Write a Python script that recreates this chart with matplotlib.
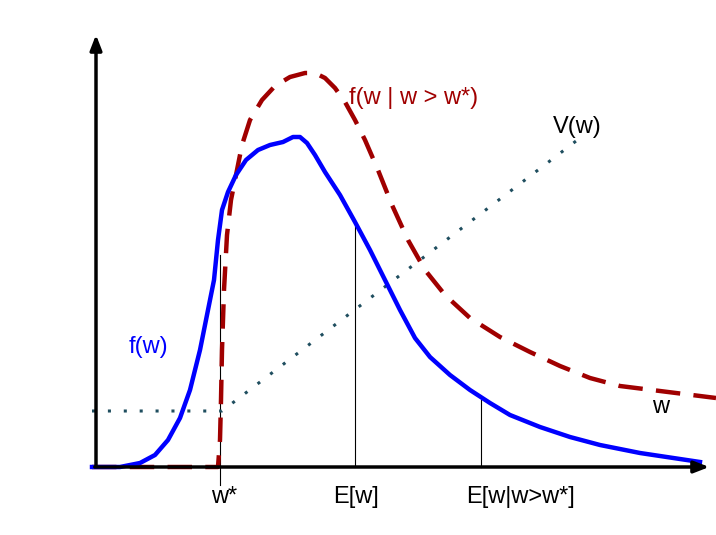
import numpy as np
import matplotlib.pyplot as plt

# points (pixel coords, y grows downward)
f_x = [92, 120, 140, 155, 168, 180, 190, 200, 208, 214, 218, 222, 228, 236, 246,
       258, 270, 283, 293, 300, 307, 315, 325, 340, 355, 370, 385, 400, 415, 430,
       450, 470, 490, 510, 540, 570, 600, 640, 680, 700]
f_y = [467, 467, 463, 455, 440, 418, 390, 350, 310, 280, 240, 210, 192, 175, 160,
       150, 145, 142, 137, 137, 143, 155, 172, 195, 222, 250, 280, 310, 338, 357,
       375, 390, 403, 415, 427, 437, 445, 453, 459, 462]

fc_x = [92, 218, 220, 221, 222, 224, 227, 231, 236, 242, 250, 262, 275, 290, 305,
        315, 325, 335, 345, 355, 365, 378, 392, 408, 425, 445, 470, 500, 530, 560,
        590, 620, 660, 716]
fc_y = [467, 467, 440, 400, 350, 290, 235, 200, 175, 145, 120, 100, 86, 77, 73,
        73, 78, 88, 102, 120, 140, 170, 205, 240, 270, 295, 318, 337, 352, 366,
        378, 386, 391, 398]

v_x = [92, 222, 580]
v_y = [411, 411, 138]

tick_x = [220, 355, 481]
tick_top = [255, 222, 400]
tick_labels = ["w*", "E[w]", "E[w|w>w*]"]

plt.rcParams['font.family'] = ['Liberation Sans', 'DejaVu Sans']

fig = plt.figure(figsize=(7.16, 5.35), dpi=100)
ax = fig.add_axes([0, 0, 1, 1])
ax.set_xlim(0, 716)
ax.set_ylim(535, 0)
ax.axis("off")

# axes arrows
ax.annotate("", xy=(96, 32), xytext=(96, 469),
            arrowprops=dict(arrowstyle="-|>,head_length=0.9,head_width=0.35", color="black", lw=2.5))
ax.annotate("", xy=(712, 467), xytext=(92, 467),
            arrowprops=dict(arrowstyle="-|>,head_length=0.9,head_width=0.35", color="black", lw=2.5))

# vertical markers
for x, top in zip(tick_x, tick_top):
    bottom = 485 if x == tick_x[0] else 467
    ax.plot([x, x], [top, bottom], color="black", lw=0.8)

ax.plot(v_x, v_y, color="#1f4e5f", lw=2.2, ls=(0, (1, 4.2)))
ax.plot(fc_x, fc_y, color="#a00000", lw=3.2, ls=(0, (5.5, 3)), solid_joinstyle="round")
ax.plot(f_x, f_y, color="#0000ff", lw=3.2, solid_joinstyle="round")

fs = 17
ax.text(224, 497, tick_labels[0], fontsize=fs, ha="center", va="center")
ax.text(356, 497, tick_labels[1], fontsize=fs, ha="center", va="center")
ax.text(520, 497, tick_labels[2], fontsize=fs, ha="center", va="center")
ax.text(148, 347, "f(w)", fontsize=fs, color="#0000ff", ha="center", va="center")
ax.text(414, 98, "f(w | w > w*)", fontsize=fs, color="#a00000", ha="center", va="center")
ax.text(577, 127, "V(w)", fontsize=fs, color="black", ha="center", va="center")
ax.text(661, 407, "w", fontsize=fs, color="black", ha="center", va="center")

fig.savefig("out.png", dpi=100)
